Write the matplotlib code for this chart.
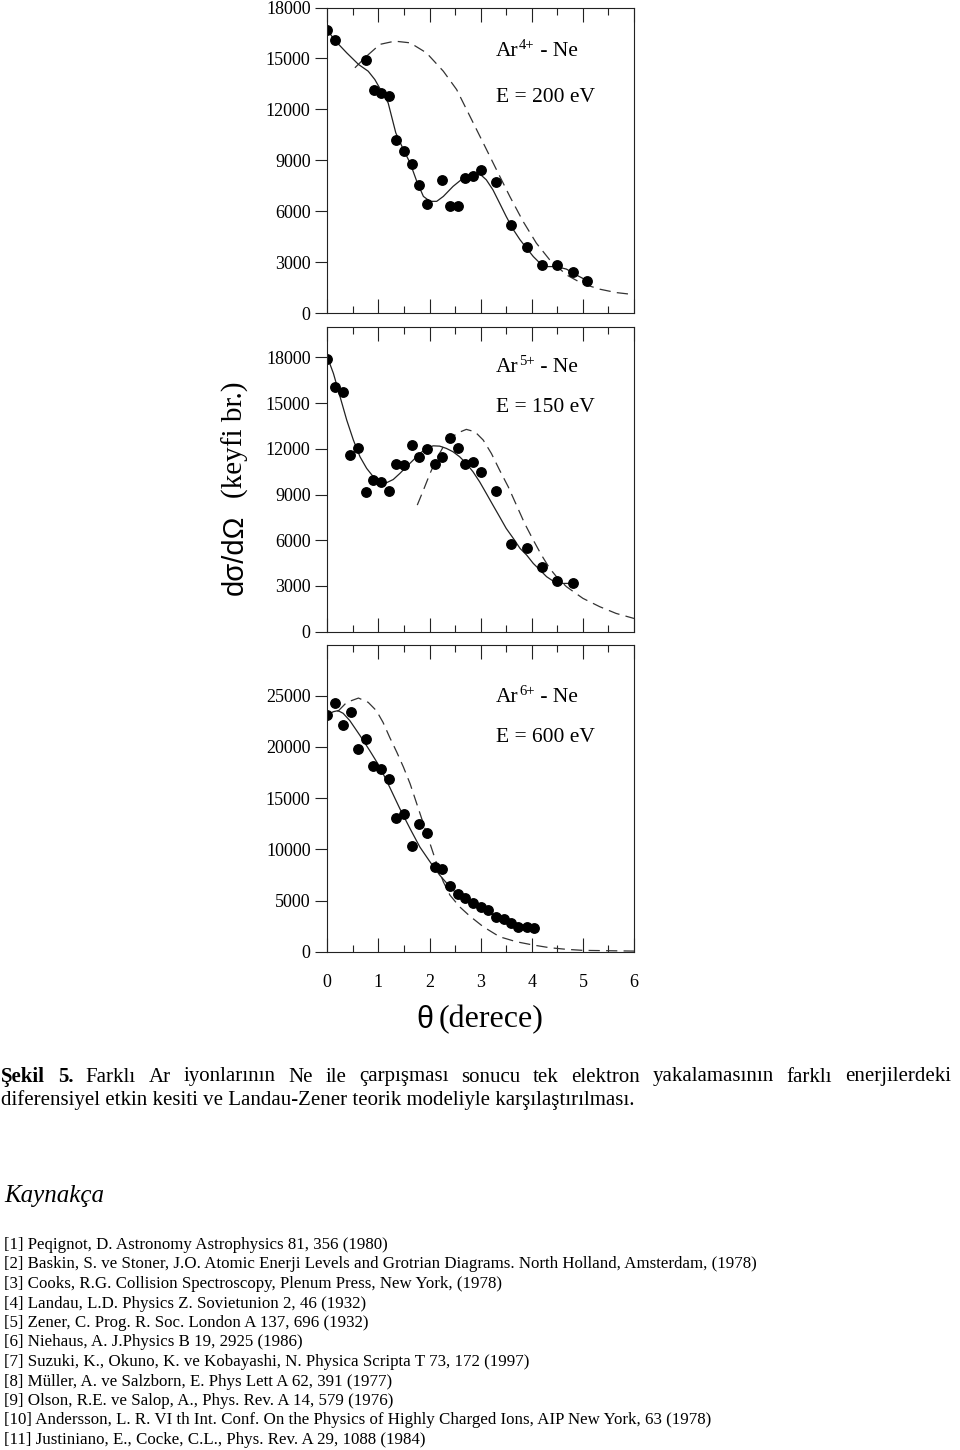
import numpy as np
import matplotlib
matplotlib.use('Agg')
import matplotlib.pyplot as plt
from matplotlib.ticker import MultipleLocator

W, H = 960, 1450

# --- data (theta in degrees, cross section in arb. units) ---
# Ar4+ - Ne, E = 200 eV
theta4 = [0.0, 0.156, 0.756, 0.912, 1.055, 1.21, 1.34, 1.50, 1.655, 1.80, 1.954, 2.25,
          2.40, 2.55, 2.70, 2.85, 3.0, 3.31, 3.60, 3.90, 4.20, 4.50, 4.80, 5.09]
sigma4 = [16670, 16080, 14900, 13130, 12980, 12780, 10220, 9570, 8770, 7570, 6450, 7840,
          6330, 6290, 7960, 8060, 8450, 7710, 5170, 3890, 2850, 2850, 2420, 1910]
fit4_x = [0.0, 0.15, 0.38, 0.61, 0.80, 0.93, 1.06, 1.19, 1.34, 1.49, 1.62, 1.75, 1.88,
          2.01, 2.14, 2.27, 2.46, 2.66, 2.85, 3.0, 3.11, 3.24, 3.37, 3.50, 3.64, 3.77,
          3.90, 4.03, 4.16, 4.29, 4.48, 4.68, 4.87, 5.09]
fit4_y = [16670, 16060, 15330, 14650, 14250, 13760, 13070, 12390, 10620, 9630, 8850,
          7770, 6880, 6590, 6590, 6880, 7470, 7960, 8160, 8160, 7860, 7270, 6490, 5700,
          4920, 4330, 3830, 3340, 2950, 2750, 2750, 2600, 2260, 1910]
lz4_x = [0.54, 0.77, 1.03, 1.32, 1.62, 1.94, 2.27, 2.53, 2.79, 3.05, 3.31, 3.57, 3.83,
         4.09, 4.35, 4.68, 5.0, 5.33, 5.65, 6.0]
lz4_y = [14450, 15140, 15830, 16020, 15920, 15330, 14250, 13170, 11600, 10030, 8450,
         6880, 5410, 4130, 3150, 2260, 1730, 1420, 1220, 1100]

# Ar5+ - Ne, E = 150 eV
theta5 = [0.0, 0.156, 0.30, 0.44, 0.61, 0.756, 0.90, 1.055, 1.20, 1.34, 1.50, 1.655,
          1.80, 1.954, 2.10, 2.25, 2.40, 2.55, 2.70, 2.85, 3.0, 3.31, 3.60, 3.90, 4.20,
          4.50, 4.80]
sigma5 = [17930, 16070, 15750, 11590, 12070, 9190, 9950, 9840, 9250, 10980, 10940,
          12250, 11480, 11960, 10980, 11480, 12730, 12090, 11000, 11150, 10500, 9250,
          5750, 5470, 4220, 3320, 3170]
fit5_x = [0.0, 0.12, 0.25, 0.38, 0.51, 0.64, 0.77, 0.90, 1.03, 1.16, 1.29, 1.42, 1.55,
          1.68, 1.81, 1.94, 2.07, 2.20, 2.33, 2.46, 2.59, 2.72, 2.85, 2.98, 3.11, 3.24,
          3.37, 3.50, 3.64, 3.77, 3.90, 4.03, 4.16, 4.29, 4.42, 4.61, 4.80]
fit5_y = [18040, 16950, 15420, 13890, 12580, 11480, 10720, 10170, 9840, 9780, 9990,
          10390, 10830, 11260, 11700, 12030, 12200, 12180, 12030, 11810, 11480, 11040,
          10500, 9840, 9080, 8310, 7550, 6780, 6120, 5470, 5030, 4480, 4050, 3610, 3320,
          3170, 3170]
lz5_x = [1.76, 1.88, 2.01, 2.14, 2.27, 2.40, 2.56, 2.72, 2.89, 3.05, 3.21, 3.37, 3.54,
         3.70, 3.86, 4.03, 4.19, 4.35, 4.51, 4.68, 5.0, 5.33, 5.65, 6.0]
lz5_y = [8310, 9290, 10390, 11370, 12140, 12680, 13060, 13280, 13120, 12580, 11700,
         10610, 9510, 8310, 7110, 6010, 5030, 4160, 3500, 2950, 2190, 1640, 1200, 870]

# Ar6+ - Ne, E = 600 eV
theta6 = [0.0, 0.156, 0.30, 0.456, 0.60, 0.756, 0.90, 1.055, 1.20, 1.34, 1.50, 1.655,
          1.80, 1.954, 2.10, 2.25, 2.40, 2.55, 2.70, 2.85, 3.0, 3.14, 3.30, 3.45, 3.60,
          3.74, 3.90, 4.05]
sigma6 = [23090, 24320, 22180, 23410, 19810, 20780, 18120, 17860, 16880, 13090, 13410,
          10290, 12500, 11590, 8280, 8120, 6400, 5680, 5290, 4710, 4380, 4060, 3410,
          3150, 2830, 2370, 2370, 2270]
fit6_x = [0.0, 0.12, 0.21, 0.31, 0.44, 0.64, 0.83, 1.03, 1.22, 1.42, 1.62, 1.81, 2.01,
          2.20, 2.40, 2.59, 2.79, 3.05, 3.37, 3.70, 4.05]
fit6_y = [23150, 23440, 23540, 23280, 22570, 21110, 19640, 18020, 16070, 13960, 12010,
          10230, 8770, 7470, 6330, 5360, 4710, 3990, 3340, 2760, 2270]
lz6_x = [0.20, 0.38, 0.61, 0.80, 0.96, 1.09, 1.22, 1.36, 1.49, 1.62, 1.75, 1.88, 2.01,
         2.14, 2.27, 2.40, 2.59, 2.79, 3.05, 3.37, 3.70, 4.03, 4.35, 4.68, 5.0, 6.0]
lz6_y = [23440, 24350, 24770, 24350, 23540, 22400, 20940, 19480, 18020, 16400, 14450,
         12500, 10550, 8600, 6820, 5520, 4380, 3470, 2440, 1460, 970, 650, 390, 230,
         130, 60]

panel_ylim = [18000, 20000, 30000]
panel_ystep = [3000, 3000, 5000]
panel_ytop_label = [18000, 18000, 25000]
panel_ion = ['4+', '5+', '6+']
panel_energy = ['200', '150', '600']

caption_1 = "Farklı Ar iyonlarının Ne ile çarpışması sonucu tek elektron yakalamasının farklı enerjilerdeki"
caption_2 = "diferensiyel etkin kesiti ve Landau-Zener teorik modeliyle karşılaştırılması."
references = [
    "[1] Peqignot, D. Astronomy Astrophysics 81, 356 (1980)",
    "[2] Baskin, S. ve Stoner, J.O. Atomic Enerji Levels and Grotrian Diagrams. North Holland, Amsterdam, (1978)",
    "[3] Cooks, R.G. Collision Spectroscopy, Plenum Press, New York, (1978)",
    "[4] Landau, L.D. Physics Z. Sovietunion 2, 46 (1932)",
    "[5] Zener, C. Prog. R. Soc. London A 137, 696 (1932)",
    "[6] Niehaus, A. J.Physics B 19, 2925 (1986)",
    "[7] Suzuki, K., Okuno, K. ve Kobayashi, N. Physica Scripta T 73, 172 (1997)",
    "[8] Müller, A. ve Salzborn, E. Phys Lett A 62, 391 (1977)",
    "[9] Olson, R.E. ve Salop, A., Phys. Rev. A 14, 579 (1976)",
    "[10] Andersson, L. R. VI th Int. Conf. On the Physics of Highly Charged Ions, AIP New York, 63 (1978)",
    "[11] Justiniano, E., Cocke, C.L., Phys. Rev. A 29, 1088 (1984)",
]

plt.rcParams['font.family'] = 'Liberation Serif'

fig = plt.figure(figsize=(W / 100, H / 100), dpi=100)
renderer = fig.canvas.get_renderer()


def fx(x):
    return x / W


def fy(y):
    return 1 - y / H


def width_of(t):
    return t.get_window_extent(renderer).width


# panel boxes in pixels (top, bottom)
boxes = [(7.5, 313.3), (327, 631.7), (644.5, 951.7)]
left, right = 327.3, 634

datasets = [(theta4, sigma4, fit4_x, fit4_y, lz4_x, lz4_y),
            (theta5, sigma5, fit5_x, fit5_y, lz5_x, lz5_y),
            (theta6, sigma6, fit6_x, fit6_y, lz6_x, lz6_y)]
ann_y = [(56, 102), (372, 412), (702, 742)]

for i, (top, bot) in enumerate(boxes):
    ax = fig.add_axes([fx(left), fy(bot), fx(right - left), (bot - top) / H])
    th, sg, fxs, fys, lxs, lys = datasets[i]
    ax.plot(lxs, lys, color='#333333', lw=0.9, dashes=(9, 5))
    ax.plot(fxs, fys, color='#222222', lw=0.9)
    ax.plot(th, sg, 'o', color='black', ms=6.8, mec='black')

    ax.set_xlim(0, 6)
    ax.set_ylim(0, panel_ylim[i])
    ax.xaxis.set_major_locator(MultipleLocator(1))
    ax.xaxis.set_minor_locator(MultipleLocator(0.5))
    ax.set_yticks(np.arange(0, panel_ytop_label[i] + 1, panel_ystep[i]))
    ax.tick_params(axis='x', which='both', direction='in', top=True, bottom=True,
                   width=0.8, color='#222222', labelsize=13, pad=16)
    ax.tick_params(axis='x', which='major', length=10)
    ax.tick_params(axis='x', which='minor', length=5)
    ax.tick_params(axis='y', direction='out', length=9, width=0.8, color='#222222',
                   labelsize=13, pad=3, right=False)
    if i < 2:
        ax.tick_params(axis='x', labelbottom=False)
    for s in ax.spines.values():
        s.set_linewidth(0.8)
        s.set_color('#222222')

    # "Ar" + raised charge + " - Ne"
    y0 = ann_y[i][0]
    t_ar = fig.text(fx(496), fy(y0), 'Ar', fontsize=15.5, va='baseline')
    x1 = 496 + width_of(t_ar) + 0.5
    t_q = fig.text(fx(x1), fy(y0 - 7), panel_ion[i], fontsize=10.5, va='baseline')
    x2 = x1 + width_of(t_q)
    fig.text(fx(x2), fy(y0), ' - Ne', fontsize=15.5, va='baseline')
    fig.text(fx(496), fy(ann_y[i][1]), 'E = %s eV' % panel_energy[i],
             fontsize=15.5, va='baseline', ha='left')

# axis titles
fig.text(fx(235), fy(555), 'dσ/dΩ', family='Liberation Sans', fontsize=21,
         rotation=90, ha='center', va='center')
fig.text(fx(235), fy(440), '(keyfi br.)', fontsize=21, rotation=90,
         ha='center', va='center')
fig.text(fx(425), fy(1020), 'θ', family='Liberation Sans', fontsize=22,
         ha='center', va='center')
fig.text(fx(491), fy(1020), '(derece)', fontsize=23, ha='center', va='center')

# caption, second line sets the size, first line justified
t2 = fig.text(fx(1), fy(1100), caption_2, fontsize=10, va='center', ha='left')
cap_size = 10 * 632 / width_of(t2)
t2.set_fontsize(cap_size)

words = [('Şekil', 'bold'), ('5.', 'bold')] + [(w, 'normal') for w in caption_1.split()]
tmp = []
for w, wt in words:
    tmp.append(fig.text(0, fy(1077), w, fontsize=cap_size, weight=wt, va='center'))
widths = [width_of(t) for t in tmp]
gap = (951 - 1 - sum(widths)) / (len(words) - 1)
x = 1
for t, w in zip(tmp, widths):
    t.set_x(fx(x))
    x += w + gap

# references
fig.text(fx(4), fy(1196), 'Kaynakça', fontsize=18, style='italic', va='center')
r2 = fig.text(fx(4), fy(1264), references[1], fontsize=10, va='center')
ref_size = 10 * 753 / width_of(r2)
r2.remove()
for k, r in enumerate(references):
    fig.text(fx(4), fy(1245 + 19.5 * k), r, fontsize=ref_size, va='center')

fig.savefig('out.png', dpi=100)
